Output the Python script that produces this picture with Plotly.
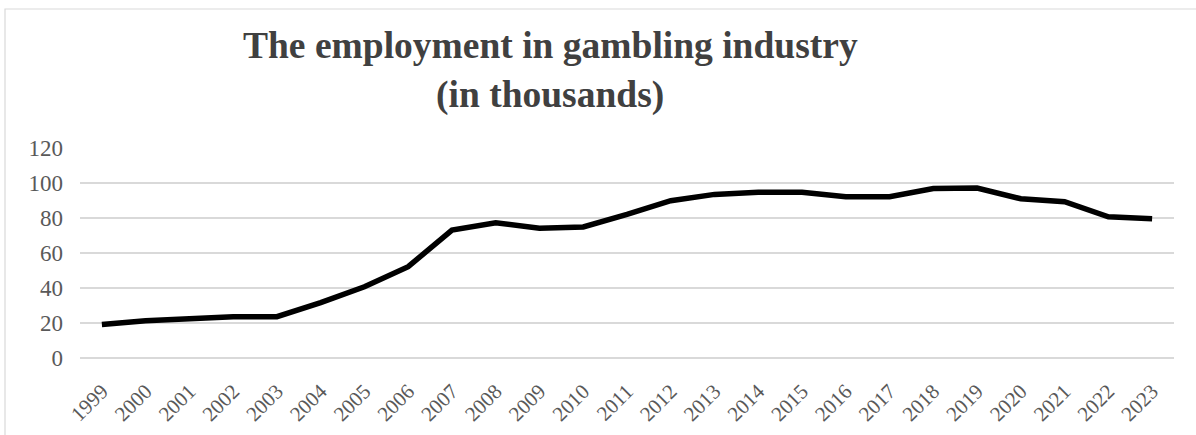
import plotly.graph_objects as go

years = [str(y) for y in range(1999, 2024)]
employment = [19.2, 21.3, 22.5, 23.6, 23.6, 31.6, 40.7, 52.2, 73.1, 77.3, 74.1, 74.9,
              82.1, 89.9, 93.5, 94.7, 94.7, 92.2, 92.2, 96.8, 97.1, 91.0, 89.3, 80.7, 79.6]
y_ticks = [0, 20, 40, 60, 80, 100, 120]
title_lines = ["The employment in gambling industry", "(in thousands)"]

W, H = 1196, 435
L, R, T, B = 80, 22, 148, 77

fig = go.Figure()
fig.add_trace(go.Scatter(x=years, y=employment, mode="lines",
                         line=dict(color="#000000", width=5.5), showlegend=False))

pw = W - L - R
ph = H - T - B
def px_x(p):
    return (p - L) / pw
def px_y(p):
    return (H - B - p) / ph

fig.add_shape(type="rect", xref="paper", yref="paper",
              x0=px_x(5), x1=px_x(1205), y0=px_y(445), y1=px_y(9),
              line=dict(color="#d9d9d9", width=1.2), fillcolor="rgba(0,0,0,0)", layer="below")

for txt, yc in zip(title_lines, [45, 95]):
    fig.add_annotation(text="<b>" + txt + "</b>", xref="paper", yref="paper",
                       x=px_x(550), y=px_y(yc), xanchor="center", yanchor="middle",
                       showarrow=False,
                       font=dict(family="Liberation Serif", size=37.5, color="#404040"))

fig.update_layout(
    width=W, height=H,
    margin=dict(l=L, r=R, t=T, b=B, autoexpand=False),
    paper_bgcolor="white", plot_bgcolor="white",
    font=dict(family="Liberation Serif", color="#595959"),
    xaxis=dict(type="category", range=[-0.5, 24.5], tickangle=-45, showgrid=False,
               zeroline=False, showline=False, ticks="", automargin=False,
               ticklabelstandoff=16,
               tickfont=dict(size=21, color="#595959")),
    yaxis=dict(range=[0, 120], tickvals=y_ticks, showgrid=True, gridcolor="#d9d9d9",
               gridwidth=1.5, zeroline=True, zerolinecolor="#d9d9d9", zerolinewidth=1.5,
               showline=False, ticks="", automargin=False, ticklabelstandoff=16,
               tickfont=dict(size=23, color="#595959")),
)

fig.write_html("out.html", config={"displayModeBar": False},
               post_script="document.body.style.margin='0';")
